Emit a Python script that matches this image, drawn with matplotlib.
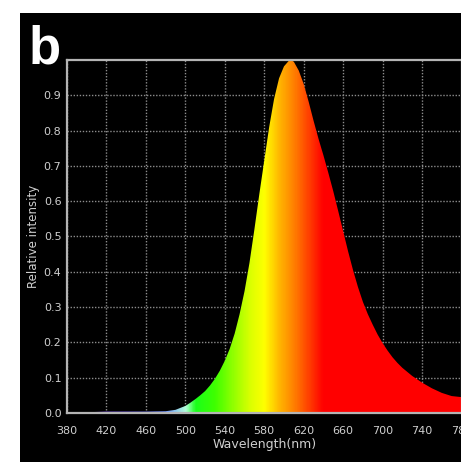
import numpy as np
import matplotlib
matplotlib.use('Agg')
import matplotlib.pyplot as plt
from matplotlib.colors import LinearSegmentedColormap

# spectrum
wavelength = [380, 400, 420, 440, 460, 480, 490, 500, 505, 510, 515, 520, 525,
              530, 535, 540, 545, 550, 555, 560, 565, 570, 575, 580, 585, 590,
              595, 600, 605, 607, 610, 615, 620, 625, 630, 635, 640, 645, 650,
              655, 660, 665, 670, 675, 680, 685, 690, 695, 700, 705, 710, 715,
              720, 730, 740, 750, 760, 770, 780]
intensity = [0.0, 0.002, 0.004, 0.004, 0.004, 0.005, 0.009, 0.02, 0.029, 0.039,
             0.05, 0.062, 0.078, 0.097, 0.12, 0.148, 0.182, 0.225, 0.28, 0.345,
             0.425, 0.52, 0.62, 0.715, 0.81, 0.89, 0.948, 0.982, 0.998, 1.0,
             0.995, 0.97, 0.932, 0.882, 0.828, 0.777, 0.73, 0.68, 0.628, 0.572,
             0.515, 0.458, 0.405, 0.357, 0.315, 0.28, 0.25, 0.222, 0.198,
             0.177, 0.158, 0.142, 0.128, 0.105, 0.086, 0.07, 0.057, 0.048,
             0.045]

xticks = [380, 420, 460, 500, 540, 580, 620, 660, 700, 740, 780]
yticks = [0.0, 0.1, 0.2, 0.3, 0.4, 0.5, 0.6, 0.7, 0.8, 0.9]

# colour of the light along the wavelength axis
color_wl = [380, 440, 480, 500, 510, 530, 550, 565, 580, 595, 610, 625, 640, 780]
color_rgb = [(0.55, 0.2, 0.85), (0.45, 0.35, 1.0), (0.45, 0.6, 1.0),
             (0.7, 1.0, 0.85), (0.1, 1.0, 0.1), (0.25, 1.0, 0.0),
             (0.6, 1.0, 0.0), (0.85, 1.0, 0.0), (1.0, 1.0, 0.0),
             (1.0, 0.72, 0.0), (1.0, 0.5, 0.0), (1.0, 0.25, 0.0),
             (1.0, 0.0, 0.0), (1.0, 0.0, 0.0)]

W, H = 461, 462
fig = plt.figure(figsize=(W / 100, H / 100), dpi=100)
fig.patch.set_facecolor('white')

# black panel behind the chart
bg = fig.add_axes([20 / W, 0, (W - 20) / W, (H - 13) / H])
bg.set_facecolor('black')
bg.set_xticks([])
bg.set_yticks([])
for s in bg.spines.values():
    s.set_visible(False)

ax = fig.add_axes([67 / W, (H - 413) / H, 394.5 / W, 353 / H])
ax.set_facecolor('black')
ax.set_xlim(380, 780)
ax.set_ylim(0, 1)

ax.grid(True, color='#8c8c8c', linestyle=(0, (1, 1.2)), linewidth=1.0, zorder=0)

poly = ax.fill_between(wavelength, intensity, 0, color='none', zorder=2)
stops = [((w - 380) / 400, c) for w, c in zip(color_wl, color_rgb)]
cmap = LinearSegmentedColormap.from_list('spec', stops)
grad = np.linspace(0, 1, 800).reshape(1, -1)
img = ax.imshow(grad, extent=[380, 780, 0, 1], aspect='auto', cmap=cmap,
                origin='lower', zorder=2)
img.set_clip_path(poly.get_paths()[0], transform=ax.transData)

ax.set_xticks(xticks)
ax.set_yticks(yticks)
ax.set_yticklabels([f'{v:.1f}' for v in yticks])
ax.tick_params(axis='both', length=0, colors='#cfcfcf', labelsize=8)
ax.tick_params(axis='x', pad=9)
ax.tick_params(axis='y', pad=4)

for s in ax.spines.values():
    s.set_color('#b4b4b4')
    s.set_linewidth(1.6)
    s.set_zorder(3)

ax.set_xlabel('Wavelength(nm)', color='#cfcfcf', fontsize=9, labelpad=1.5)
ax.set_ylabel('Relative intensity', color='#cfcfcf', fontsize=8.5, labelpad=3)

fig.text(29 / W, 1 - 63 / H, 'b', color='white', fontsize=38,
         fontweight='bold', family='Liberation Sans', ha='left', va='baseline')

fig.savefig('out.png', dpi=100, facecolor=fig.get_facecolor())
